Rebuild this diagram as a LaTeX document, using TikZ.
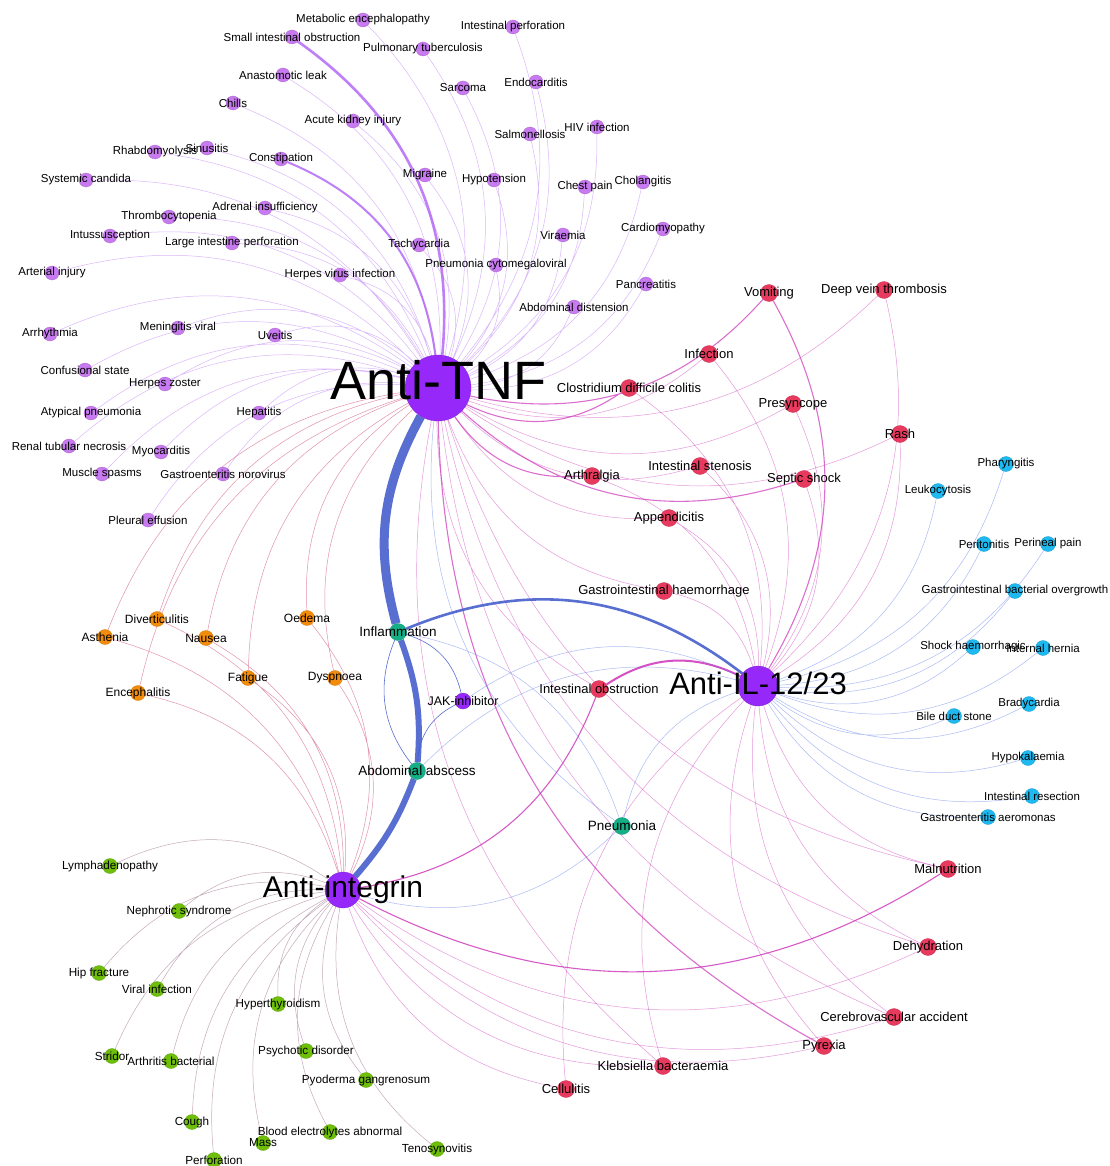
\documentclass[tikz,border=0pt]{standalone}
\usepackage{fontspec}
\setmainfont{Liberation Sans}
\usetikzlibrary{backgrounds}
\definecolor{drugc}{RGB}{150,40,250}
\definecolor{aeTnf}{RGB}{200,122,240}
\definecolor{aeRed}{RGB}{232,58,95}
\definecolor{aeBlue}{RGB}{30,185,240}
\definecolor{aeGreen}{RGB}{110,190,10}
\definecolor{aeOrange}{RGB}{242,140,10}
\definecolor{aeTeal}{RGB}{20,175,135}
\definecolor{edP}{RGB}{175,95,245}
\definecolor{edR}{RGB}{205,50,185}
\definecolor{edB}{RGB}{90,120,235}
\definecolor{edO}{RGB}{200,60,100}
\definecolor{edG}{RGB}{150,100,130}
\definecolor{edT}{RGB}{70,95,205}
\tikzset{
  dot/.style={circle, inner sep=0pt, fill=#1, draw=#1!85!black, line width=0.3pt},
  lab/.style={font=\fontsize{#1}{#1}\selectfont, text=black, inner sep=0pt},
  drug/.style={dot=drugc, minimum size=#1},
  pAE/.style={dot=aeTnf, minimum size=14pt, label={[lab=11.5]center:#1}},
  rAE/.style={dot=aeRed, minimum size=17pt, label={[lab=13]center:#1}},
  bAE/.style={dot=aeBlue, minimum size=15pt, label={[lab=11.5]center:#1}},
  oAE/.style={dot=aeOrange, minimum size=15pt, label={[lab=12]center:#1}},
  gAE/.style={dot=aeGreen, minimum size=15pt, label={[lab=11.7]center:#1}},
  tAE/.style={dot=aeTeal, minimum size=17pt, label={[lab=13.5]center:#1}},
  eP/.style={draw=edP, draw opacity=0.45, line width=#1}, eP/.default=0.5pt,
  eR/.style={draw=edR, draw opacity=0.5, line width=#1}, eR/.default=0.5pt,
  eB/.style={draw=edB, draw opacity=0.5, line width=#1}, eB/.default=0.5pt,
  eO/.style={draw=edO, draw opacity=0.55, line width=#1}, eO/.default=0.5pt,
  eG/.style={draw=edG, draw opacity=0.55, line width=#1}, eG/.default=0.5pt,
  eT/.style={draw=edT, draw opacity=0.9, line width=#1}, eT/.default=0.6pt
}

\begin{document}
\begin{tikzpicture}[x=1pt, y=-1pt]
  \useasboundingbox (0,0) rectangle (1109,1166);

  % drugs
  \node[drug=66pt, label={[lab=54, yshift=8pt]center:Anti-TNF}] (tnf) at (438,388) {};
  \node[drug=40pt, label={[lab=31, yshift=3pt]center:Anti-IL-12/23}] (il) at (758,686) {};
  \node[drug=36pt, label={[lab=30]center:Anti-integrin}] (integ) at (343,890) {};
  \node[drug=16pt, label={[lab=12.5]center:JAK-inhibitor}] (jak) at (463,701) {};

  % shared
  \node[tAE=Inflammation] (infl) at (398,632) {};
  \node[tAE=Abdominal abscess] (absc) at (417,771) {};
  \node[tAE=Pneumonia] (pneu) at (622,826) {};

  % anti-TNF only
  \node[pAE=Metabolic encephalopathy] (metab) at (363,20) {};
  \node[pAE=Small intestinal obstruction] (sio) at (292,37) {};
  \node[pAE=Intestinal perforation] (intperf) at (513,27) {};
  \node[pAE=Pulmonary tuberculosis] (pulmtb) at (423,49) {};
  \node[pAE=Anastomotic leak] (anast) at (283,75) {};
  \node[pAE=Endocarditis] (endoc) at (536,82) {};
  \node[pAE=Sarcoma] (sarc) at (463,88) {};
  \node[pAE=Chills] (chills) at (233,103) {};
  \node[pAE=Acute kidney injury] (aki) at (353,121) {};
  \node[pAE=Salmonellosis] (salm) at (530,134) {};
  \node[pAE=HIV infection] (hiv) at (597,127) {};
  \node[pAE=Rhabdomyolysis] (rhabdo) at (155,152) {};
  \node[pAE=Sinusitis] (sinus) at (207,148) {};
  \node[pAE=Constipation] (constip) at (281,159) {};
  \node[pAE=Migraine] (migr) at (425,175) {};
  \node[pAE=Hypotension] (hypot) at (494,180) {};
  \node[pAE=Chest pain] (chest) at (585,187) {};
  \node[pAE=Cholangitis] (chol) at (643,182) {};
  \node[pAE=Systemic candida] (sysc) at (86,180) {};
  \node[pAE=Adrenal insufficiency] (adren) at (265,208) {};
  \node[pAE=Thrombocytopenia] (thromb) at (169,217) {};
  \node[pAE=Cardiomyopathy] (cardm) at (663,229) {};
  \node[pAE=Viraemia] (viraem) at (563,235) {};
  \node[pAE=Intussusception] (intus) at (110,236) {};
  \node[pAE=Large intestine perforation] (lip) at (232,243) {};
  \node[pAE=Tachycardia] (tachy) at (419,245) {};
  \node[pAE=Pneumonia cytomegaloviral] (pcmv) at (496,265) {};
  \node[pAE=Arterial injury] (arter) at (52,273) {};
  \node[pAE=Herpes virus infection] (hvi) at (340,275) {};
  \node[pAE=Pancreatitis] (pancr) at (646,284) {};
  \node[pAE=Abdominal distension] (abdis) at (574,307) {};
  \node[pAE=Arrhythmia] (arrh) at (50,334) {};
  \node[pAE=Meningitis viral] (menv) at (178,328) {};
  \node[pAE=Uveitis] (uve) at (275,335) {};
  \node[pAE=Confusional state] (conf) at (85,370) {};
  \node[pAE=Herpes zoster] (hzos) at (165,384) {};
  \node[pAE=Atypical pneumonia] (atyp) at (91,413) {};
  \node[pAE=Hepatitis] (hepat) at (259,413) {};
  \node[pAE=Renal tubular necrosis] (rtn) at (69,446) {};
  \node[pAE=Myocarditis] (myoc) at (161,452) {};
  \node[pAE=Muscle spasms] (musc) at (102,474) {};
  \node[pAE=Gastroenteritis norovirus] (gnoro) at (223,474) {};
  \node[pAE=Pleural effusion] (pleur) at (148,520) {};

  % anti-TNF / anti-IL / anti-integrin
  \node[rAE=Vomiting] (vomit) at (769,293) {};
  \node[rAE=Deep vein thrombosis] (dvt) at (884,290) {};
  \node[rAE=Infection] (infect) at (709,354) {};
  \node[rAE=Clostridium difficile colitis] (cdiff) at (629,388) {};
  \node[rAE=Presyncope] (presy) at (793,404) {};
  \node[rAE=Rash] (rash) at (900,434) {};
  \node[rAE=Intestinal stenosis] (instn) at (700,466) {};
  \node[rAE=Arthralgia] (arthr) at (592,476) {};
  \node[rAE=Septic shock] (septic) at (804,479) {};
  \node[rAE=Appendicitis] (append) at (669,518) {};
  \node[rAE=Gastrointestinal haemorrhage] (gih) at (664,591) {};
  \node[rAE=Intestinal obstruction] (intobs) at (599,689) {};
  \node[rAE=Malnutrition] (maln) at (948,869) {};
  \node[rAE=Dehydration] (dehyd) at (928,947) {};
  \node[rAE=Cerebrovascular accident] (cva) at (894,1017) {};
  \node[rAE=Pyrexia] (pyrex) at (824,1046) {};
  \node[rAE=Klebsiella bacteraemia] (kleb) at (663,1066) {};
  \node[rAE=Cellulitis] (cellu) at (566,1089) {};

  % anti-IL-12/23 only
  \node[bAE=Pharyngitis] (phar) at (1006,464) {};
  \node[bAE=Leukocytosis] (leuk) at (938,491) {};
  \node[bAE=Peritonitis] (perit) at (984,544) {};
  \node[bAE=Perineal pain] (perin) at (1048,544) {};
  \node[bAE=Gastrointestinal bacterial overgrowth] (gibo) at (1015,591) {};
  \node[bAE=Shock haemorrhagic] (shock) at (973,647) {};
  \node[bAE=Internal hernia] (inthern) at (1043,648) {};
  \node[bAE=Bradycardia] (brady) at (1029,704) {};
  \node[bAE=Bile duct stone] (bile) at (954,716) {};
  \node[bAE=Hypokalaemia] (hypok) at (1028,758) {};
  \node[bAE=Intestinal resection] (intres) at (1032,796) {};
  \node[bAE=Gastroenteritis aeromonas] (gaero) at (988,817) {};

  % anti-TNF / anti-integrin
  \node[oAE=Diverticulitis] (divert) at (157,619) {};
  \node[oAE=Asthenia] (asth) at (105,637) {};
  \node[oAE=Nausea] (naus) at (206,638) {};
  \node[oAE=Oedema] (oed) at (307,618) {};
  \node[oAE=Fatigue] (fatig) at (248,678) {};
  \node[oAE=Dyspnoea] (dysp) at (335,678) {};
  \node[oAE=Encephalitis] (enceph) at (138,693) {};

  % anti-integrin only
  \node[gAE=Lymphadenopathy] (lymph) at (110,866) {};
  \node[gAE=Nephrotic syndrome] (nephr) at (179,911) {};
  \node[gAE=Hip fracture] (hip) at (99,973) {};
  \node[gAE=Viral infection] (viral) at (157,989) {};
  \node[gAE=Hyperthyroidism] (hypert) at (278,1004) {};
  \node[gAE=Psychotic disorder] (psych) at (306,1051) {};
  \node[gAE=Stridor] (strid) at (112,1056) {};
  \node[gAE=Arthritis bacterial] (arthb) at (171,1061) {};
  \node[gAE=Pyoderma gangrenosum] (pyod) at (366,1080) {};
  \node[gAE=Cough] (cough) at (192,1122) {};
  \node[gAE=Blood electrolytes abnormal] (blood) at (330,1132) {};
  \node[gAE=Mass] (mass) at (263,1143) {};
  \node[gAE=Tenosynovitis] (teno) at (437,1149) {};
  \node[gAE=Perforation] (perf) at (214,1160) {};

  \begin{scope}[on background layer, every to/.style={bend right=30}]
    \fill[white] (0,0) rectangle (1109,1166);
    \draw[eP] (tnf) to (metab) (tnf) to (intperf) (tnf) to (pulmtb) (tnf) to (anast)
      (tnf) to (endoc) (tnf) to (sarc) (tnf) to (chills) (tnf) to (aki) (tnf) to (salm)
      (tnf) to (hiv) (tnf) to (rhabdo) (tnf) to (sinus) (tnf) to (migr) (tnf) to (hypot)
      (tnf) to (chest) (tnf) to (chol) (tnf) to (sysc) (tnf) to (adren) (tnf) to (thromb)
      (tnf) to (cardm) (tnf) to (viraem) (tnf) to (intus) (tnf) to (lip) (tnf) to (tachy)
      (tnf) to (pcmv) (tnf) to (arter) (tnf) to (hvi) (tnf) to (pancr) (tnf) to (abdis)
      (tnf) to (arrh) (tnf) to (menv) (tnf) to (uve) (tnf) to (conf) (tnf) to (hzos)
      (tnf) to (atyp) (tnf) to (hepat) (tnf) to (rtn) (tnf) to (myoc) (tnf) to (musc)
      (tnf) to (gnoro) (tnf) to (pleur);
    \draw[eP=2.6pt, draw opacity=0.8] (tnf) to (sio);
    \draw[eP=2pt, draw opacity=0.8] (tnf) to (constip);

    \draw[eR] (tnf) to (infect) (tnf) to (dvt) (tnf) to (presy) (tnf) to (rash)
      (tnf) to (instn) (tnf) to (append) (tnf) to (gih) (tnf) to (maln) (tnf) to (dehyd)
      (tnf) to (cva) (tnf) to (kleb) (tnf) to (intobs);
    \draw[eR=1.1pt, draw opacity=0.7] (tnf) to (vomit) (tnf) to (cdiff) (tnf) to (arthr)
      (tnf) to (septic) (tnf) to (pyrex);
    \draw[eR] (il) to (dvt) (il) to (infect) (il) to (cdiff) (il) to (presy) (il) to (rash)
      (il) to (instn) (il) to (arthr) (il) to (septic) (il) to (append) (il) to (gih)
      (il) to (maln) (il) to (dehyd) (il) to (cva) (il) to (pyrex) (il) to (kleb) (il) to (cellu);
    \draw[eR=1.1pt, draw opacity=0.7] (il) to (vomit);
    \draw[eR=2pt, draw opacity=0.85] (il) to (intobs);
    \draw[eR] (integ) to (dehyd) (integ) to (cva) (integ) to (pyrex) (integ) to (kleb)
      (integ) to (cellu);
    \draw[eR=1.1pt, draw opacity=0.8] (integ) to (intobs) (integ) to (maln);

    \draw[eB] (il) to (phar) (il) to (leuk) (il) to (perit) (il) to (perin) (il) to (gibo)
      (il) to (shock) (il) to (inthern) (il) to (brady) (il) to (bile) (il) to (hypok)
      (il) to (intres) (il) to (gaero);

    \draw[eO] (tnf) to (divert) (tnf) to (asth) (tnf) to (naus) (tnf) to (oed)
      (tnf) to (fatig) (tnf) to (dysp) (tnf) to (enceph)
      (integ) to (divert) (integ) to (asth) (integ) to (naus) (integ) to (oed)
      (integ) to (fatig) (integ) to (dysp) (integ) to (enceph);

    \draw[eG] (integ) to (lymph) (integ) to (nephr) (integ) to (hip) (integ) to (viral)
      (integ) to (hypert) (integ) to (psych) (integ) to (strid) (integ) to (arthb)
      (integ) to (pyod) (integ) to (cough) (integ) to (blood) (integ) to (mass)
      (integ) to (teno) (integ) to (perf);

    \draw[eT=9pt] (tnf) to[bend right=22] (infl);
    \draw[eT=6pt] (absc) to[bend right=12] (infl);
    \draw[eT=6pt] (integ) to[bend right=10] (absc);
    \draw[eT=2.6pt] (il) to (infl);
    \draw[eT] (infl) to (absc) (jak) to (infl) (jak) to (absc);
    \draw[eB] (il) to (absc) (il) to (jak) (il) to (pneu) (integ) to (pneu)
      (pneu) to (infl) (tnf) to (pneu);
  \end{scope}
\end{tikzpicture}
\end{document}
